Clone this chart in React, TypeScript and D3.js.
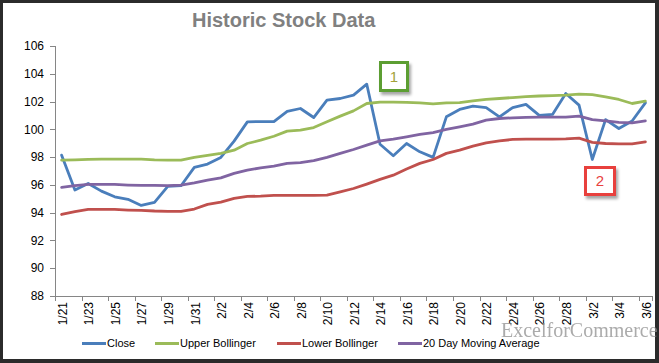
import React from "react";
import * as d3 from "d3";

const dates: string[] = [];
{
  const start = new Date(2014, 0, 21);
  for (let i = 0; i < 45; i++) {
    const d = new Date(start.getTime() + i * 86400000);
    dates.push(`${d.getMonth() + 1}/${d.getDate()}`);
  }
}

const closeVals = [
  98.14, 95.63, 96.1, 95.55, 95.14, 94.96, 94.52, 94.74, 95.9, 95.94,
  97.26, 97.5, 97.98, 99.15, 100.54, 100.56, 100.56, 101.3, 101.5, 100.85,
  102.1, 102.22, 102.46, 103.25, 98.93, 98.1, 98.98, 98.38, 97.98, 100.9,
  101.43, 101.67, 101.57, 100.9, 101.57, 101.8, 101.0, 101.07, 102.58, 101.74,
  97.83, 100.7, 100.06, 100.6, 101.9,
];
const upperVals = [
  97.78, 97.8, 97.83, 97.85, 97.85, 97.85, 97.85, 97.8, 97.78, 97.78,
  97.98, 98.12, 98.27, 98.5, 98.98, 99.22, 99.5, 99.87, 99.94, 100.13,
  100.54, 100.95, 101.33, 101.86, 101.96, 101.96, 101.94, 101.9, 101.84, 101.9,
  101.93, 102.05, 102.15, 102.22, 102.29, 102.36, 102.4, 102.42, 102.46, 102.53,
  102.5, 102.34, 102.15, 101.86, 102.03,
];
const lowerVals = [
  93.87, 94.07, 94.23, 94.23, 94.23, 94.19, 94.17, 94.12, 94.1, 94.1,
  94.26, 94.6, 94.76, 95.03, 95.17, 95.19, 95.24, 95.24, 95.24, 95.24,
  95.27, 95.5, 95.74, 96.06, 96.4, 96.7, 97.14, 97.55, 97.83, 98.27,
  98.5, 98.79, 99.03, 99.17, 99.27, 99.3, 99.3, 99.3, 99.32, 99.37,
  99.06, 98.98, 98.95, 98.95, 99.1,
];
const maVals = [
  95.82, 95.94, 96.03, 96.03, 96.03, 95.99, 95.96, 95.96, 95.94, 95.99,
  96.15, 96.35, 96.51, 96.83, 97.06, 97.23, 97.35, 97.55, 97.6, 97.74,
  97.98, 98.27, 98.55, 98.86, 99.17, 99.29, 99.46, 99.63, 99.77, 100.0,
  100.18, 100.37, 100.66, 100.78, 100.83, 100.86, 100.88, 100.88, 100.88, 100.95,
  100.7, 100.61, 100.5, 100.47, 100.61,
];
const yTicks = [88, 90, 92, 94, 96, 98, 100, 102, 104, 106];

const seriesNames = ["Close", "Upper Bollinger", "Lower Bollinger", "20 Day Moving Average"];
const seriesColors = ["#4A7EBB", "#9BBB59", "#C0504D", "#8064A2"];
const seriesData = [closeVals, upperVals, lowerVals, maVals];

const W = 659;
const H = 363;
const plotLeft = 55;
const plotRight = 652;
const plotTop = 46;
const plotBottom = 296;

export default function App() {
  const x = d3.scaleBand<string>().domain(dates).range([plotLeft, plotRight]).padding(0);
  const y = d3.scaleLinear().domain([88, 106]).range([plotBottom, plotTop]);
  const cx = (d: string) => (x(d) as number) + x.bandwidth() / 2;

  const line = d3
    .line<number>()
    .x((_, i) => cx(dates[i]))
    .y((v) => y(v));

  const tickBoundaries: number[] = [];
  for (let i = 0; i <= dates.length; i += 2) tickBoundaries.push(plotLeft + i * x.bandwidth());
  tickBoundaries.push(plotRight);

  const legendX = [82, 155, 277, 398];
  const font = "'Liberation Sans', Arial, sans-serif";

  return (
    <div style={{ position: "absolute", left: 0, top: 0 }}>
      <svg width={W} height={H} style={{ display: "block" }}>
        <defs>
          <filter id="shadow" x="-30%" y="-30%" width="160%" height="160%">
            <feDropShadow dx="2" dy="3" stdDeviation="1.8" floodColor="#000" floodOpacity="0.35" />
          </filter>
        </defs>
        <rect x={0} y={0} width={W} height={H} fill="#2b2b2b" />
        <rect x={3} y={3} width={652} height={356} fill="#ffffff" />

        <text x={192} y={27} fontFamily={font} fontWeight="bold" fontSize={20} fill="#808080">
          Historic Stock Data
        </text>

        {/* Y axis */}
        <line x1={plotLeft + 0.5} x2={plotLeft + 0.5} y1={plotTop} y2={plotBottom} stroke="#868686" strokeWidth={1} />
        {yTicks.map((t) => (
          <g key={t}>
            <line x1={plotLeft - 5} x2={plotLeft} y1={Math.round(y(t)) + 0.5} y2={Math.round(y(t)) + 0.5} stroke="#868686" />
            <text x={44} y={y(t)} dy="0.35em" textAnchor="end" fontFamily={font} fontSize={12} fill="#000">
              {t}
            </text>
          </g>
        ))}

        {/* X axis */}
        <line x1={plotLeft} x2={plotRight} y1={plotBottom + 0.5} y2={plotBottom + 0.5} stroke="#868686" />
        {tickBoundaries.map((tx, i) => (
          <line key={i} x1={Math.round(tx) + 0.5} x2={Math.round(tx) + 0.5} y1={plotBottom} y2={plotBottom + 5} stroke="#868686" />
        ))}
        {dates.map((d, i) =>
          i % 2 === 0 ? (
            <text
              key={d}
              transform={`translate(${cx(d) + 1},${302}) rotate(-90)`}
              textAnchor="end"
              dy="0.35em"
              fontFamily={font}
              fontSize={12}
              fill="#000"
            >
              {d}
            </text>
          ) : null
        )}

        {/* Series */}
        {seriesData.map((vals, si) => (
          <path
            key={si}
            d={line(vals) as string}
            fill="none"
            stroke={seriesColors[si]}
            strokeWidth={2.8}
            strokeLinejoin="round"
            strokeLinecap="round"
          />
        ))}

        {/* Watermark */}
        <text x={501} y={337} fontFamily="'Liberation Serif', 'Times New Roman', serif" fontSize={20} fill="#8f8f8f" opacity={0.75}>
          ExcelforCommerce
        </text>

        {/* Annotation boxes */}
        <g filter="url(#shadow)">
          <rect x={380.5} y={62.5} width={27} height={28} fill="#fff" stroke="#5C9E31" strokeWidth={3} />
        </g>
        <text x={394} y={77} dy="0.35em" textAnchor="middle" fontFamily={font} fontSize={15} fill="#A3A23A">
          1
        </text>
        <g filter="url(#shadow)">
          <rect x={585.5} y={167.5} width={29} height={27} fill="#fff" stroke="#E8413E" strokeWidth={3} />
        </g>
        <text x={600} y={181} dy="0.35em" textAnchor="middle" fontFamily={font} fontSize={15} fill="#E8413E">
          2
        </text>

        {/* Legend */}
        {seriesNames.map((n, i) => (
          <g key={n}>
            <line x1={legendX[i]} x2={legendX[i] + 24} y1={343.5} y2={343.5} stroke={seriesColors[i]} strokeWidth={3} />
            <text x={legendX[i] + 25} y={343.5} dy="0.35em" fontFamily={font} fontSize={11} fill="#000">
              {n}
            </text>
          </g>
        ))}
      </svg>
    </div>
  );
}
